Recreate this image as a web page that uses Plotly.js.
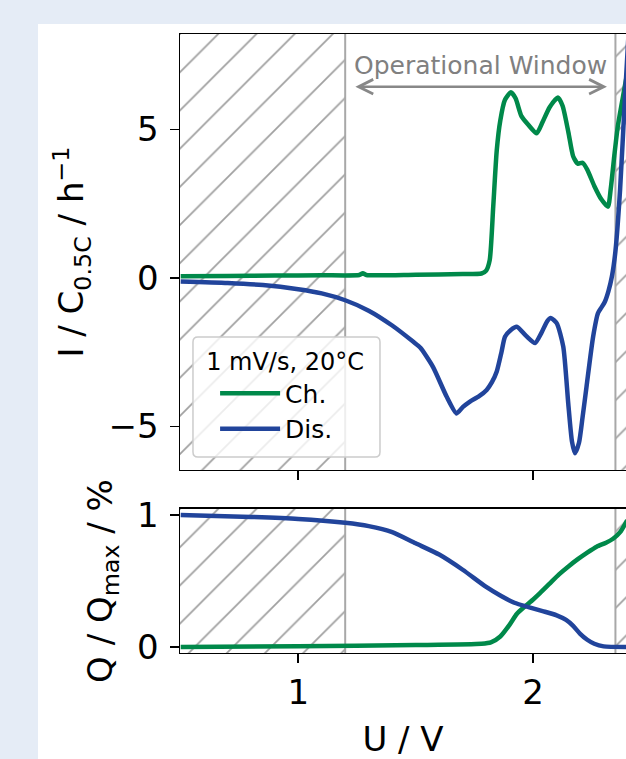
<!DOCTYPE html>
<html>
<head>
<meta charset="utf-8">
<script src="https://cdn.plot.ly/plotly-3.0.1.min.js"></script>
<style>
  html, body { margin: 0; padding: 0; overflow: hidden; background: #e5ecf6; }
  #chart { width: 626px; height: 759px; }
</style>
</head>
<body>
<div id="chart"></div>
<script>
// ---- Data ----
const windowU = [1.2, 2.35];            // operational window limits (V)
const xTicks = [1, 2];
const iTicks = [-5, 0, 5];
const qTicks = [0, 1];

// Current, charge
const chU = [0.50, 0.70, 0.90, 1.10, 1.26, 1.275, 1.29, 1.50, 1.70, 1.78, 1.80, 1.815, 1.83, 1.845, 1.86, 1.88, 1.905, 1.925, 1.95, 1.98, 2.015, 2.04, 2.07, 2.105, 2.125, 2.15, 2.17, 2.19, 2.21, 2.23, 2.26, 2.29, 2.318, 2.33, 2.345, 2.36, 2.382, 2.40];
const chI = [0.06, 0.07, 0.08, 0.09, 0.10, 0.16, 0.10, 0.11, 0.13, 0.15, 0.25, 0.6, 2.4, 4.3, 5.3, 6.0, 6.25, 6.05, 5.45, 5.15, 4.87, 5.25, 5.75, 6.08, 5.8, 4.9, 4.1, 3.85, 3.88, 3.65, 3.1, 2.65, 2.4, 3.0, 4.1, 5.1, 6.1, 6.9];

// Current, discharge
const disU = [0.50, 0.70, 0.85, 1.00, 1.10, 1.20, 1.30, 1.40, 1.49, 1.52, 1.574, 1.632, 1.674, 1.70, 1.731, 1.77, 1.802, 1.825, 1.845, 1.865, 1.88, 1.905, 1.93, 1.97, 2.008, 2.035, 2.06, 2.075, 2.10, 2.128, 2.149, 2.165, 2.178, 2.195, 2.21, 2.227, 2.255, 2.276, 2.29, 2.305, 2.32, 2.335, 2.35, 2.37, 2.39, 2.41];
const disI = [-0.12, -0.17, -0.24, -0.38, -0.52, -0.75, -1.1, -1.6, -2.15, -2.35, -3.0, -4.0, -4.56, -4.35, -4.16, -3.98, -3.77, -3.5, -3.15, -2.5, -1.98, -1.75, -1.64, -1.95, -2.19, -1.85, -1.45, -1.35, -1.52, -2.31, -4.2, -5.5, -5.9, -5.55, -4.7, -3.66, -1.98, -1.18, -1.0, -0.8, -0.45, 0.05, 0.9, 3.0, 6.0, 8.8];

// Relative charge, charge
const chQU = [0.50, 1.00, 1.50, 1.78, 1.82, 1.86, 1.90, 1.93, 1.96, 2.00, 2.03, 2.07, 2.11, 2.15, 2.19, 2.23, 2.27, 2.31, 2.34, 2.37, 2.40];
const chQ  = [0.0, 0.005, 0.015, 0.025, 0.035, 0.08, 0.17, 0.25, 0.30, 0.36, 0.41, 0.48, 0.55, 0.61, 0.665, 0.715, 0.76, 0.79, 0.82, 0.87, 0.96];

// Relative charge, discharge
const disQU = [0.50, 0.80, 1.00, 1.20, 1.30, 1.40, 1.50, 1.60, 1.70, 1.80, 1.86, 1.92, 1.98, 2.04, 2.10, 2.14, 2.17, 2.20, 2.23, 2.26, 2.30, 2.40];
const disQ  = [1.0, 0.985, 0.97, 0.94, 0.915, 0.87, 0.785, 0.70, 0.585, 0.455, 0.39, 0.335, 0.302, 0.272, 0.24, 0.205, 0.16, 0.10, 0.055, 0.025, 0.005, 0.0];

// ---- Styling ----
const FONT = 'DejaVu Sans';
const GREEN = '#00894a';
const BLUE = '#21449b';
const HATCH = '#a0a0a0';
const xRange = [0.497, 2.395];
const iRange = [-6.465, 8.215];
const qRange = [-0.045, 1.045];

function hatchRect(x0, x1, yr, xa, ya) {
  const pad = (yr[1] - yr[0]);
  const lo = yr[0] - pad, hi = yr[1] + pad;
  return {
    x: [x0, x1, x1, x0, x0],
    y: [lo, lo, hi, hi, lo],
    xaxis: xa, yaxis: ya,
    mode: 'lines', fill: 'toself',
    fillcolor: 'rgba(255,255,255,0)',
    fillpattern: { shape: '/', size: 27, solidity: 0.065, fgcolor: HATCH, bgcolor: 'rgba(255,255,255,0)' },
    line: { color: '#a8a8a8', width: 2 },
    hoverinfo: 'skip', showlegend: false
  };
}

// rounded legend frame (paper coords)
function roundRect(x0, x1, y0, y1, rx, ry) {
  return 'M' + (x0 + rx) + ',' + y0 + ' L' + (x1 - rx) + ',' + y0 + ' Q' + x1 + ',' + y0 + ' ' + x1 + ',' + (y0 + ry) +
         ' L' + x1 + ',' + (y1 - ry) + ' Q' + x1 + ',' + y1 + ' ' + (x1 - rx) + ',' + y1 +
         ' L' + (x0 + rx) + ',' + y1 + ' Q' + x0 + ',' + y1 + ' ' + x0 + ',' + (y1 - ry) +
         ' L' + x0 + ',' + (y0 + ry) + ' Q' + x0 + ',' + y0 + ' ' + (x0 + rx) + ',' + y0 + ' Z';
}

const farL = xRange[0] - 1, farR = xRange[1] + 1;
const traces = [
  hatchRect(farL, windowU[0], iRange, 'x', 'y'),
  hatchRect(windowU[1], farR, iRange, 'x', 'y'),
  hatchRect(farL, windowU[0], qRange, 'x2', 'y2'),
  hatchRect(windowU[1], farR, qRange, 'x2', 'y2'),
  { x: chU, y: chI, xaxis: 'x', yaxis: 'y', mode: 'lines', name: 'Ch.', legendgroup: 'ch',
    line: { color: GREEN, width: 4.5, shape: 'spline', smoothing: 0.6 } },
  { x: disU, y: disI, xaxis: 'x', yaxis: 'y', mode: 'lines', name: 'Dis.', legendgroup: 'dis',
    line: { color: BLUE, width: 4.5, shape: 'spline', smoothing: 0.6 } },
  { x: chQU, y: chQ, xaxis: 'x2', yaxis: 'y2', mode: 'lines', showlegend: false, legendgroup: 'ch',
    line: { color: GREEN, width: 4.5, shape: 'spline', smoothing: 0.6 } },
  { x: disQU, y: disQ, xaxis: 'x2', yaxis: 'y2', mode: 'lines', showlegend: false, legendgroup: 'dis',
    line: { color: BLUE, width: 4.5, shape: 'spline', smoothing: 0.6 } }
];

const axBase = {
  showgrid: false, zeroline: false, showline: true, linecolor: '#000', linewidth: 1.5,
  ticks: 'outside', ticklen: 9, tickwidth: 1.5, tickcolor: '#000',
  tickfont: { family: FONT, size: 34, color: '#000' }
};

const layout = {
  width: 626, height: 759,
  margin: { l: 180, r: 0, t: 0, b: 0 },
  paper_bgcolor: '#e5ecf6', plot_bgcolor: '#ffffff',
  font: { family: FONT, color: '#000' },
  showlegend: true,
  xaxis: Object.assign({}, axBase, { domain: [0, 1], range: xRange, anchor: 'y', tickvals: xTicks,
    showticklabels: false, mirror: true }),
  yaxis: Object.assign({}, axBase, { domain: [0.3808, 0.9552], range: iRange, anchor: 'x', tickvals: iTicks,
    ticklabelstandoff: 4,
    title: { text: 'I / C<sub>0.5C</sub> / h<sup>−1</sup>', font: { family: FONT, size: 34 }, standoff: 14 } }),
  xaxis2: Object.assign({}, axBase, { domain: [0, 1], range: xRange, anchor: 'y2', tickvals: xTicks,
    mirror: true,
    title: { text: 'U / V', font: { family: FONT, size: 34 }, standoff: 17 } }),
  yaxis2: Object.assign({}, axBase, { domain: [0.1397, 0.3294], range: qRange, anchor: 'x2', tickvals: qTicks,
    ticklabelstandoff: 4,
    title: { text: 'Q / Q<sub>max</sub> / %', font: { family: FONT, size: 34 }, standoff: 14 } }),
  legend: {
    x: 0.054, y: 0.553, xanchor: 'left', yanchor: 'top',
    bgcolor: 'rgba(255,255,255,0)', borderwidth: 0,
    font: { family: FONT, size: 25, color: '#000' },
    title: { text: '1 mV/s, 20°C', side: 'top center', font: { family: FONT, size: 24, color: '#000' } },
    itemwidth: 60, indentation: 11, tracegroupgap: 7, traceorder: 'normal'
  },
  shapes: [
    { type: 'rect', xref: 'paper', yref: 'paper', x0: -0.3184, x1: 1.05, y0: -0.05, y1: 0.9684,
      fillcolor: '#ffffff', line: { width: 0 }, layer: 'below' },
    { type: 'path', xref: 'paper', yref: 'paper', layer: 'above',
      path: roundRect(0.0291, 0.4484, 0.3979, 0.556, 0.011, 0.0066),
      fillcolor: 'rgba(255,255,255,0.8)', line: { color: '#cccccc', width: 1.5 } }
  ],
  annotations: [
    { xref: 'x', yref: 'y', x: 2.314, y: 6.44, ax: 1.237, ay: 6.44, axref: 'x', ayref: 'y',
      showarrow: true, arrowside: 'end+start', arrowhead: 5, startarrowhead: 5,
      arrowsize: 1.2, startarrowsize: 1.2, arrowwidth: 2.4, arrowcolor: '#888888', text: '', standoff: 0, startstandoff: 0 },
    { xref: 'x', yref: 'y', x: (windowU[0] + windowU[1]) / 2, y: 7.14, showarrow: false,
      text: 'Operational Window', font: { family: FONT, size: 25, color: '#808080' },
      xanchor: 'center', yanchor: 'middle' }
  ]
};

Plotly.newPlot('chart', traces, layout, { displayModeBar: false, staticPlot: true });
</script>
</body>
</html>
